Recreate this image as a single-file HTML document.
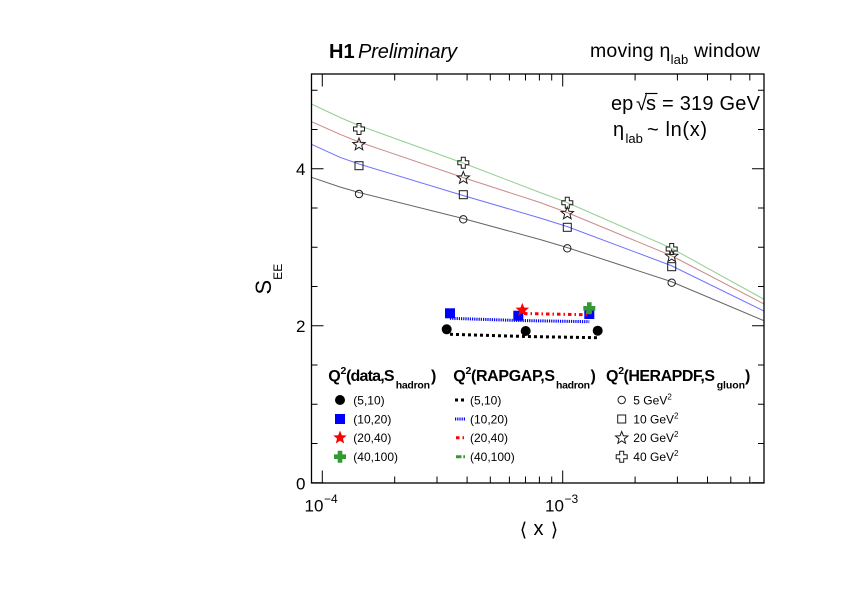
<!DOCTYPE html>
<html>
<head>
<meta charset="utf-8">
<style>
html,body{margin:0;padding:0;background:#fff;}
svg{display:block;}
</style>
</head>
<body>
<svg width="842" height="595" viewBox="0 0 842 595" xmlns="http://www.w3.org/2000/svg" font-family="'Liberation Sans', Arial, sans-serif">
<defs>
<path id="ostar" d="M0,-6.5 L1.65,-2.27 L6.18,-2.01 L2.68,0.87 L3.82,5.26 L0,2.82 L-3.82,5.26 L-2.68,0.87 L-6.18,-2.01 L-1.65,-2.27 Z"/>
<path id="ocross" d="M-2,-5.5 H2 V-2 H5.5 V2 H2 V5.5 H-2 V2 H-5.5 V-2 H-2 Z"/>
<path id="fcross" d="M-2.3,-6 H2.3 V-2.3 H6 V2.3 H2.3 V6 H-2.3 V2.3 H-6 V-2.3 H-2.3 Z"/>
</defs>
<rect width="842" height="595" fill="#fff"/>

<!-- HERAPDF curves -->
<g fill="none" stroke-width="1">
<polyline stroke="#666666" points="311.5,177.3 340,187 359,192.5 463,218.5 540,239.5 567,247.5 671,281.5 764,320.7"/>
<polyline stroke="#7070ff" points="311.5,144.3 340,157.3 359,164 463,195.5 540,218 567,226.5 671,265.5 764,311"/>
<polyline stroke="#cc8a8a" points="311.5,121.7 340,134.3 359,142 463,177.5 540,202.5 567,212.5 671,255.5 764,304"/>
<polyline stroke="#92cf92" points="311.5,104 340,117.5 359,125.5 463,163 540,192.5 567,202.5 671,248 764,299.3"/>
</g>

<!-- HERAPDF open markers -->
<g fill="none" stroke="#1a1a1a" stroke-width="1">
<circle cx="359" cy="194" r="3.7"/>
<circle cx="463.3" cy="219.3" r="3.7"/>
<circle cx="567.3" cy="248.3" r="3.7"/>
<circle cx="671.7" cy="282.7" r="3.7"/>
<rect x="355" y="161.7" width="8" height="8"/>
<rect x="459.3" y="190.7" width="8" height="8"/>
<rect x="563.3" y="223.3" width="8" height="8"/>
<rect x="667.7" y="262.7" width="8" height="8"/>
<use href="#ostar" x="359" y="144.5"/>
<use href="#ostar" x="463.3" y="178"/>
<use href="#ostar" x="567.3" y="213.5"/>
<use href="#ostar" x="671.7" y="256.3"/>
<use href="#ocross" x="359" y="129"/>
<use href="#ocross" x="463.3" y="162.7"/>
<use href="#ocross" x="567.3" y="202.7"/>
<use href="#ocross" x="671.7" y="249"/>
</g>

<!-- RAPGAP lines and data -->
<polyline fill="none" stroke="#000" stroke-width="3" stroke-dasharray="3 3" points="450,334.3 525.7,336.5 597.7,337.7"/>
<circle cx="446.7" cy="329.3" r="5" fill="#000"/>
<circle cx="525.7" cy="331" r="5" fill="#000"/>
<circle cx="597.7" cy="330.7" r="5" fill="#000"/>

<polyline fill="none" stroke="#0000ff" stroke-width="3" stroke-dasharray="1.2 1" points="450,318.3 518.3,320.5 589.3,321.7"/>
<rect x="445" y="308.3" width="10" height="10" fill="#0000ff"/>
<rect x="513.3" y="310.7" width="10" height="10" fill="#0000ff"/>
<rect x="584.3" y="309" width="10" height="10" fill="#0000ff"/>

<polyline fill="none" stroke="#ff0000" stroke-width="3" stroke-dasharray="3.5 3 1.5 3" points="524,313.5 589.3,314.8"/>
<use href="#ostar" fill="#ff0000" transform="translate(522.3,310) scale(1.1)"/>

<line x1="586" y1="312.5" x2="592" y2="312.5" stroke="#339933" stroke-width="3"/>
<use href="#fcross" fill="#339933" x="589.3" y="308.3"/>

<!-- Frame -->
<rect x="311.5" y="74" width="452.5" height="409" fill="none" stroke="#000" stroke-width="1.3"/>

<!-- Ticks -->
<g stroke="#000" stroke-width="1" fill="none">
<path d="M311.5 482.7h12M311.5 325.7h12M311.5 168.7h12
M311.5 443.45h6M311.5 404.2h6M311.5 364.95h6M311.5 286.45h6M311.5 247.2h6M311.5 207.95h6M311.5 129.45h6M311.5 90.2h6
M764 482.7h-12M764 325.7h-12M764 168.7h-12
M764 443.45h-6M764 404.2h-6M764 364.95h-6M764 286.45h-6M764 247.2h-6M764 207.95h-6M764 129.45h-6M764 90.2h-6"/>
<path d="M322.3 483v-12.5M562.7 483v-12.5
M394.7 483v-6.5M437 483v-6.5M467.1 483v-6.5M490.3 483v-6.5M509.4 483v-6.5M525.5 483v-6.5M539.4 483v-6.5M551.7 483v-6.5
M635.1 483v-6.5M677.4 483v-6.5M707.5 483v-6.5M730.8 483v-6.5M749.8 483v-6.5
M322.3 74v12.5M562.7 74v12.5
M394.7 74v6.5M437 74v6.5M467.1 74v6.5M490.3 74v6.5M509.4 74v6.5M525.5 74v6.5M539.4 74v6.5M551.7 74v6.5
M635.1 74v6.5M677.4 74v6.5M707.5 74v6.5M730.8 74v6.5M749.8 74v6.5"/>
</g>

<!-- Axis labels -->
<g font-size="17" fill="#000">
<text x="305.5" y="489.5" text-anchor="end">0</text>
<text x="305.5" y="332" text-anchor="end">2</text>
<text x="305.5" y="175" text-anchor="end">4</text>
<text x="304.5" y="511.5">10</text>
<text x="324" y="503" font-size="12">−4</text>
<text x="545" y="511.5">10</text>
<text x="564.5" y="503" font-size="12">−3</text>
</g>

<!-- X axis title -->
<g font-size="20" fill="#000" text-anchor="middle">
<text x="523.5" y="536" font-family="'DejaVu Sans', 'Liberation Sans', sans-serif" font-size="19">⟨</text>
<text x="538.5" y="535">x</text>
<text x="554.5" y="536" font-family="'DejaVu Sans', 'Liberation Sans', sans-serif" font-size="19">⟩</text>
</g>

<!-- Y axis title -->
<text transform="translate(271,294.5) rotate(-90)" font-size="22" fill="#000">S<tspan font-size="12" dy="11">EE</tspan></text>

<!-- Top labels -->
<text x="329" y="58" font-size="20" font-weight="bold" fill="#000">H1</text>
<text x="358" y="58" font-size="20" font-style="italic" fill="#000" textLength="99">Preliminary</text>

<text x="590" y="57" font-size="19.5" fill="#000" textLength="170">moving η<tspan font-size="13" dy="7">lab</tspan><tspan dy="-7"> window</tspan></text>

<g font-size="20" fill="#000">
<text x="611" y="110">ep</text>
<text x="636" y="110">√</text>
<text x="646" y="110">s</text>
<line x1="645" y1="93.5" x2="657.5" y2="93.5" stroke="#000" stroke-width="1.2"/>
<text x="662" y="110" textLength="98">= 319 GeV</text>
<text x="613" y="136">η</text>
<text x="625.5" y="143" font-size="13">lab</text>
<text x="647" y="136" textLength="60">~ ln(x)</text>
</g>

<!-- Legend headers -->
<g font-weight="bold" fill="#000">
<text x="328.3" y="381" font-size="16">Q</text>
<text x="340.5" y="374" font-size="10.5">2</text>
<text x="346" y="381" font-size="16" textLength="48.5">(data,S</text>
<text x="395.7" y="388.5" font-size="10.5" textLength="34.3">hadron</text>
<text x="431" y="381" font-size="16">)</text>

<text x="453.3" y="381" font-size="16">Q</text>
<text x="465.5" y="374" font-size="10.5">2</text>
<text x="471" y="381" font-size="16" textLength="84">(RAPGAP,S</text>
<text x="556" y="388.5" font-size="10.5" textLength="34">hadron</text>
<text x="590.5" y="381" font-size="16">)</text>

<text x="606" y="381" font-size="16">Q</text>
<text x="618.2" y="374" font-size="10.5">2</text>
<text x="623.5" y="381" font-size="16" textLength="91.5">(HERAPDF,S</text>
<text x="716.7" y="388.5" font-size="10.5" textLength="28.3">gluon</text>
<text x="745" y="381" font-size="16">)</text>
</g>

<!-- Legend column 1 -->
<circle cx="340" cy="400" r="5" fill="#000"/>
<rect x="335" y="414" width="10" height="10" fill="#0000ff"/>
<use href="#ostar" fill="#ff0000" transform="translate(340,437.7) scale(1.1)"/>
<use href="#fcross" fill="#339933" x="340" y="456.7"/>
<g font-size="12" fill="#000">
<text x="353.3" y="404.3">(5,10)</text>
<text x="353.3" y="423.3">(10,20)</text>
<text x="353.3" y="442">(20,40)</text>
<text x="353.3" y="461">(40,100)</text>
</g>

<!-- Legend column 2 -->
<line x1="455" y1="400" x2="465" y2="400" stroke="#000" stroke-width="3" stroke-dasharray="3 3"/>
<line x1="455" y1="419" x2="465" y2="419" stroke="#0000ff" stroke-width="3" stroke-dasharray="1.2 1"/>
<line x1="456" y1="437.7" x2="465" y2="437.7" stroke="#ff0000" stroke-width="3" stroke-dasharray="3.5 3 1.5 3"/>
<line x1="456" y1="456.7" x2="465" y2="456.7" stroke="#339933" stroke-width="3" stroke-dasharray="5.5 1.8 1.7 3"/>
<g font-size="12" fill="#000">
<text x="470" y="404.3">(5,10)</text>
<text x="470" y="423.3">(10,20)</text>
<text x="470" y="442">(20,40)</text>
<text x="470" y="461">(40,100)</text>
</g>

<!-- Legend column 3 -->
<g fill="none" stroke="#1a1a1a" stroke-width="1">
<circle cx="621.7" cy="400" r="3.7"/>
<rect x="617.7" y="415" width="8" height="8"/>
<use href="#ostar" x="621.7" y="438"/>
<use href="#ocross" x="621.7" y="456.7"/>
</g>
<g font-size="12" fill="#000">
<text x="633.3" y="404.3">5 GeV<tspan font-size="8" dy="-5">2</tspan></text>
<text x="633.3" y="423.3">10 GeV<tspan font-size="8" dy="-5">2</tspan></text>
<text x="633.3" y="442">20 GeV<tspan font-size="8" dy="-5">2</tspan></text>
<text x="633.3" y="461">40 GeV<tspan font-size="8" dy="-5">2</tspan></text>
</g>
</svg>
</body>
</html>
